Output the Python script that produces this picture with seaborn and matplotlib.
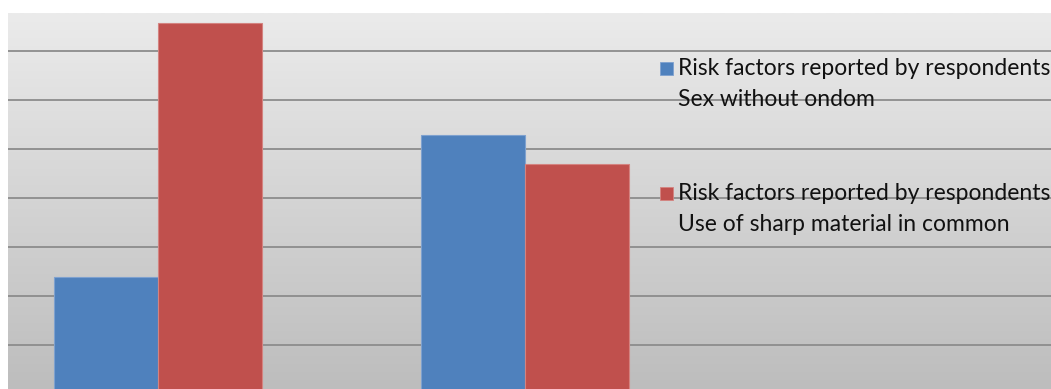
# grouped bar chart of risk factors reported by respondents
# (gradient plot background, legend at right, axes cropped like the source)

import numpy as np
import pandas as pd
import matplotlib
matplotlib.use("Agg")
import matplotlib.pyplot as plt
from matplotlib.patches import Rectangle
import seaborn as sns

groups = ["Group A", "Group B"]
series = [
    "Risk factors reported by respondents\nSex without ondom",
    "Risk factors reported by respondents\nUse of sharp material in common",
]
sex_without_condom = [11.9, 26.4]
sharp_material = [37.9, 23.5]
colors = ["#4F81BD", "#C0504D"]
edge_colors = ["#7EA1CF", "#D48380"]

df = pd.DataFrame({
    "Group": groups * 2,
    "Series": [series[0]] * 2 + [series[1]] * 2,
    "Value": sex_without_condom + sharp_material,
})

sns.set_style("white")
plt.rcParams["font.family"] = ["Lato", "DejaVu Sans"]

W, H = 1051, 389
fig = plt.figure(figsize=(W / 100, H / 100), dpi=100, facecolor="white")
ax = fig.add_axes([8 / W, 0, (W - 8) / W, 376 / H])

# gradient background of the plot area
grad = np.linspace(0, 1, 256).reshape(-1, 1)
ax.imshow(grad, cmap=matplotlib.colors.LinearSegmentedColormap.from_list(
    "bg", ["#BDBDBD", "#EBEBEB"]), origin="lower", aspect="auto",
    extent=(-0.409, 2.433, 0.5, 38.9), zorder=0)

sns.barplot(data=df, x="Group", y="Value", hue="Series", palette=colors,
            width=0.567, saturation=1, legend=False, ax=ax, zorder=3)

for i, cont in enumerate(ax.containers):
    for bar in cont:
        bar.set_edgecolor(edge_colors[i])
        bar.set_linewidth(0.8)

ax.set_xlim(-0.409, 2.433)
ax.set_ylim(0.5, 38.9)
ax.set_yticks(np.arange(5, 36, 5))
ax.yaxis.grid(True, color="#8C8C8C", linewidth=1.3, zorder=1)
ax.set_axisbelow(True)
ax.tick_params(left=False, bottom=False, labelleft=False, labelbottom=False)
ax.set_xlabel("")
ax.set_ylabel("")
for s in ax.spines.values():
    s.set_visible(False)

# legend entries (square marker next to first line)
legend_rows = [68, 193]
for color, edge, label, y in zip(colors, edge_colors, series, legend_rows):
    fig.patches.append(Rectangle(((660) / W, 1 - (y + 7) / H), 13 / W, 13 / H,
                                 transform=fig.transFigure, facecolor=color,
                                 edgecolor=edge, linewidth=0.6))
    fig.text(678 / W, 1 - (y - 10) / H, label, ha="left", va="top",
             fontsize=16.5, color="#111111", linespacing=1.58)

plt.savefig("out.png", dpi=100)
